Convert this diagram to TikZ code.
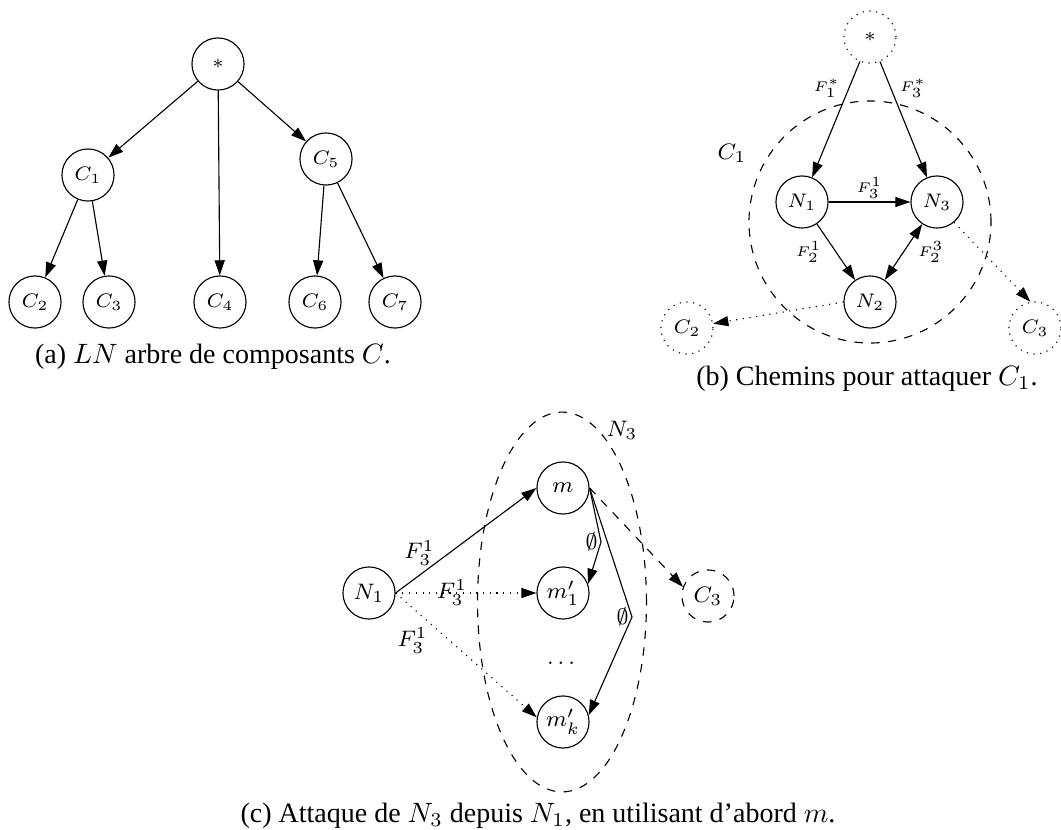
\documentclass[tikz,border=0pt]{standalone}
\usepackage{amsmath,amssymb}
\usepackage[no-math]{fontspec}
\setmainfont{Liberation Serif}
\usepackage{tikz}
\usetikzlibrary{arrows.meta,shapes.geometric}

\begin{document}
\begin{tikzpicture}[x=0.357pt, y=-0.357pt, >={Triangle[length=5.4pt,width=3.6pt]}]
	  \tikzstyle{comp} = [circle, draw, minimum size=18.6pt, inner sep=0pt, font=\scriptsize]
	  \tikzstyle{ghost} = [comp, dotted]
	  \tikzstyle{lab} = [inner sep=1pt]
	  \tikzstyle{caption} = [inner sep=0pt, font=\normalsize]
	  \useasboundingbox (0, 0) rectangle (1061, 830);
	  % (a) arbre
	  \node[comp] (as) at (218, 64) {$*$};
	  \node[comp] (a1) at (88, 175) {$C_1$};
	  \node[comp] (a5) at (326, 159) {$C_5$};
	  \node[comp] (a2) at (35, 302) {$C_2$};
	  \node[comp] (a3) at (109, 302) {$C_3$};
	  \node[comp] (a4) at (220, 302) {$C_4$};
	  \node[comp] (a6) at (315, 302) {$C_6$};
	  \node[comp] (a7) at (395, 302) {$C_7$};
	  \foreach \from/\to in {as/a1,as/a4,as/a5,a1/a2,a1/a3,a5/a6,a5/a7}
	    \draw[->] (\from) -- (\to);
	  \node[caption] (capa) at (213, 357) {(a) $LN$ arbre de composants $C$.};
	  % (b) chemins
	  \node[circle, draw, dashed, minimum size=86.4pt, inner sep=0pt] (bc1) at (870, 222) {};
	  \node[lab, font=\footnotesize] (bl) at (732, 153) {$C_1$};
	  \node[ghost] (bs) at (870, 37) {$*$};
	  \node[comp] (b1) at (802, 202) {$N_1$};
	  \node[comp] (b3) at (937, 202) {$N_3$};
	  \node[comp] (b2) at (870, 302) {$N_2$};
	  \node[ghost] (bc2) at (687, 328) {$C_2$};
	  \node[ghost] (bc3) at (1035, 328) {$C_3$};
	  \begin{scope}[every node/.style={lab, font=\tiny}]
	  \draw[->] (bs) -- node[pos=0.23, left=2pt] {$F_1^*$} (b1);
	  \draw[->] (bs) -- node[pos=0.23, right=2pt] {$F_3^*$} (b3);
	  \draw[->] (b1) -- node[above] {$F_3^1$} (b3);
	  \draw[->] (b1) -- node[left=4pt] {$F_2^1$} (b2);
	  \draw[<->] (b2) -- node[right=4pt] {$F_2^3$} (b3);
	  \end{scope}
	  \draw[->, dotted] (b2.west) -- (bc2);
	  \draw[->, dotted] (b3.-50) -- (bc3.100);
	  \node[caption] (capb) at (867, 379) {(b) Chemins pour attaquer $C_1$.};
	  % (c) attaque
	  \node[draw, dashed, ellipse, minimum width=60.3pt, minimum height=135.6pt, inner sep=0pt] (cbox) at (562, 602) {};
	  \node[lab, font=\footnotesize] (cl) at (622, 430) {$N_3$};
	  \tikzstyle{comp} = [circle, draw, minimum size=18.6pt, inner sep=0pt, font=\footnotesize]
	  \node[comp] (cn1) at (369, 593) {$N_1$};
	  \node[comp] (cm) at (563, 488) {$m$};
	  \node[comp] (cm1) at (563, 593) {$m'_1$};
	  \node[comp] (cmk) at (563, 722) {$m'_k$};
	  \node[comp, dashed] (cc3) at (708, 596) {$C_3$};
	  \node[lab, font=\footnotesize] (cdots) at (563, 663) {$\dots$};
	  \coordinate (ck1) at (601, 542);
	  \coordinate (ck2) at (632, 617);
	  \begin{scope}[every node/.style={lab, font=\footnotesize}]
	  \draw[->] (cn1.east) -- node[pos=0.3, left, yshift=3pt] {$F_3^1$} (cm.west);
	  \draw[->, dotted] (cn1.east) -- node[pos=0.4] {$F_3^1$} (cm1.west);
	  \draw[->, dotted] (cn1.east) -- node[pos=0.25, below left] {$F_3^1$} (cmk.170);
	  \draw[->] (cm.east) -- (ck1) node[left] {$\emptyset$} -- (cm1.20);
	  \draw[->] (cm.east) -- (ck2) node[left] {$\emptyset$} -- (cmk.15);
	  \end{scope}
	  \draw[->, dashed] (cm.east) -- (cc3.160);
	  \node[caption] (capc) at (538, 816) {(c) Attaque de $N_3$ depuis $N_1$, en utilisant d'abord $m$.};
\end{tikzpicture}
\end{document}
